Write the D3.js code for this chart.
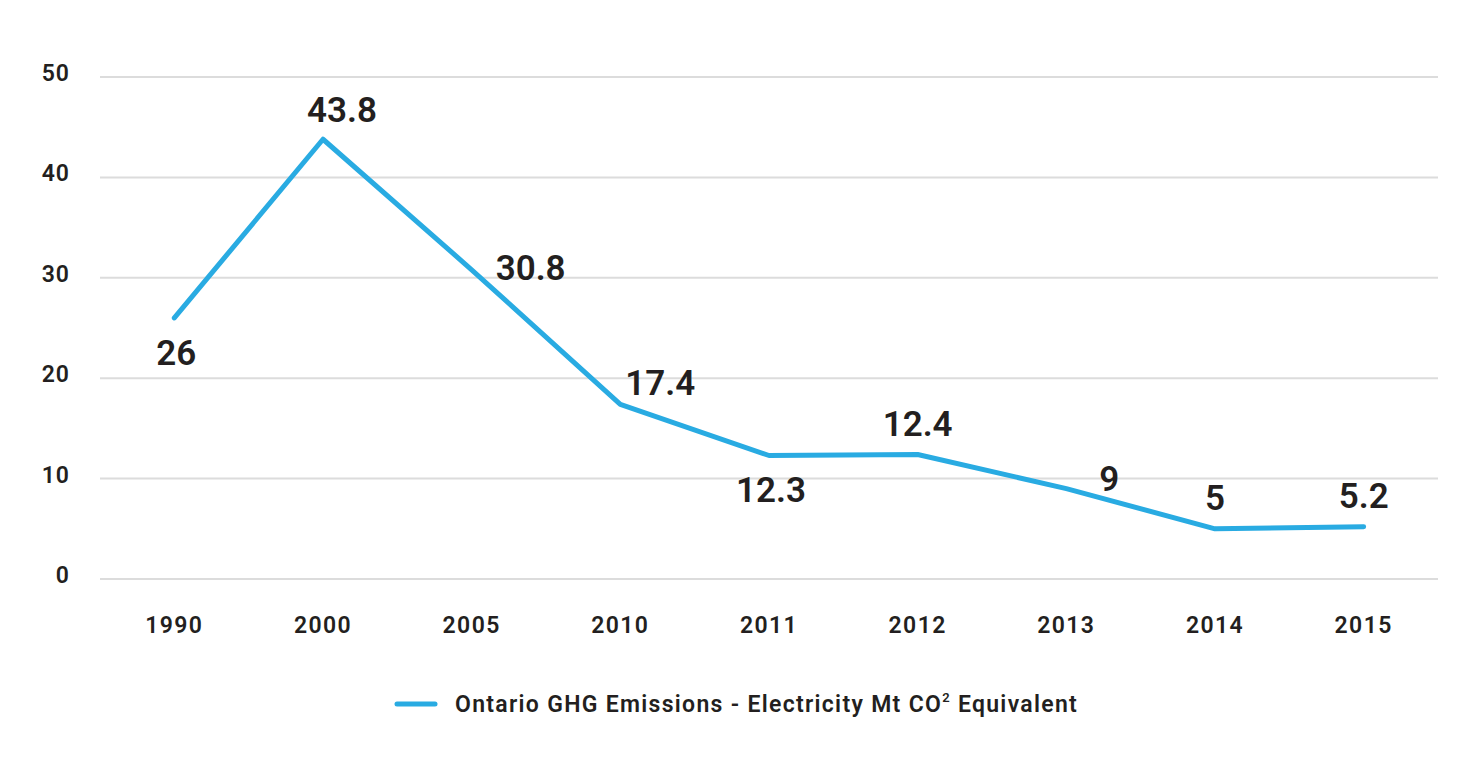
<!DOCTYPE html>
<html>
<head>
<meta charset="utf-8">
<script src="https://cdn.jsdelivr.net/npm/d3@7"></script>
<style>
  body { margin: 0; background: #fff; }
  svg text { font-family: Roboto, "Noto Sans", sans-serif; fill: #231f20; }
</style>
</head>
<body>
<div id="chart"></div>
<script>
// 数据
const years = ['1990', '2000', '2005', '2010', '2011', '2012', '2013', '2014', '2015'];
const emissions = [26, 43.8, 30.8, 17.4, 12.3, 12.4, 9, 5, 5.2];
const yTicks = [0, 10, 20, 30, 40, 50];
// 数值标签的位置
const labelPlacement = ['below', 'aboveRight', 'right', 'upRight', 'below', 'above', 'sideUp', 'above', 'above'];
const seriesName = 'Ontario GHG Emissions - Electricity Mt CO';

const width = 1477, height = 772;
const padding = { top: 77, right: 39, bottom: 193, left: 100 };
const lineColor = '#29abe2';

const svg = d3.select('#chart').append('svg')
    .attr('width', width)
    .attr('height', height);

const xScale = d3.scaleBand()
    .domain(years)
    .range([padding.left, width - padding.right]);

const yScale = d3.scaleLinear()
    .domain([0, 50])
    .range([height - padding.bottom, padding.top]);

// 网格线
svg.selectAll('.grid')
    .data(yTicks)
    .enter()
    .append('line')
    .attr('x1', padding.left)
    .attr('x2', width - padding.right)
    .attr('y1', d => yScale(d))
    .attr('y2', d => yScale(d))
    .attr('stroke', '#dcdcdc')
    .attr('stroke-width', 2);

// y轴标签
svg.selectAll('.y-label')
    .data(yTicks)
    .enter()
    .append('text')
    .text(d => d)
    .attr('x', 70)
    .attr('y', d => yScale(d) + 4)
    .attr('text-anchor', 'end')
    .attr('font-size', '23px')
    .attr('font-weight', 600)
    .attr('letter-spacing', '1px');

// x轴标签
svg.selectAll('.x-label')
    .data(years)
    .enter()
    .append('text')
    .text(d => d)
    .attr('x', d => xScale(d) + xScale.bandwidth() / 2)
    .attr('y', 633)
    .attr('text-anchor', 'middle')
    .attr('font-size', '23px')
    .attr('font-weight', 600)
    .attr('letter-spacing', '1.4px');

// 折线
const line = d3.line()
    .x((d, i) => xScale(years[i]) + xScale.bandwidth() / 2)
    .y(d => yScale(d));

svg.append('path')
    .datum(emissions)
    .attr('d', line)
    .attr('fill', 'none')
    .attr('stroke', lineColor)
    .attr('stroke-width', 5)
    .attr('stroke-linecap', 'round')
    .attr('stroke-linejoin', 'round');

// 数值标签偏移
const offsets = {
    below: [2, 34],
    above: [0, -31],
    aboveRight: [19, -30],
    right: [59, -2],
    upRight: [40, -22],
    sideUp: [43, -10]
};

svg.selectAll('.value-label')
    .data(emissions)
    .enter()
    .append('text')
    .text(d => d)
    .attr('x', (d, i) => xScale(years[i]) + xScale.bandwidth() / 2 + offsets[labelPlacement[i]][0])
    .attr('y', (d, i) => yScale(d) + offsets[labelPlacement[i]][1])
    .attr('dy', '0.36em')
    .attr('text-anchor', 'middle')
    .attr('font-size', '35px')
    .attr('font-weight', 600);

// 图例
const legend = svg.append('g').attr('transform', 'translate(397, 704)');
legend.append('line')
    .attr('x1', 0).attr('x2', 38)
    .attr('y1', 0).attr('y2', 0)
    .attr('stroke', lineColor)
    .attr('stroke-width', 5)
    .attr('stroke-linecap', 'round');
const legendText = legend.append('text')
    .attr('x', 58)
    .attr('y', 8)
    .attr('font-size', '23px')
    .attr('font-weight', 600)
    .attr('letter-spacing', '1.3px');
legendText.append('tspan').text(seriesName);
legendText.append('tspan').text('2').attr('font-size', '13px').attr('dy', -10);
legendText.append('tspan').text(' Equivalent').attr('dy', 10);
</script>
</body>
</html>
